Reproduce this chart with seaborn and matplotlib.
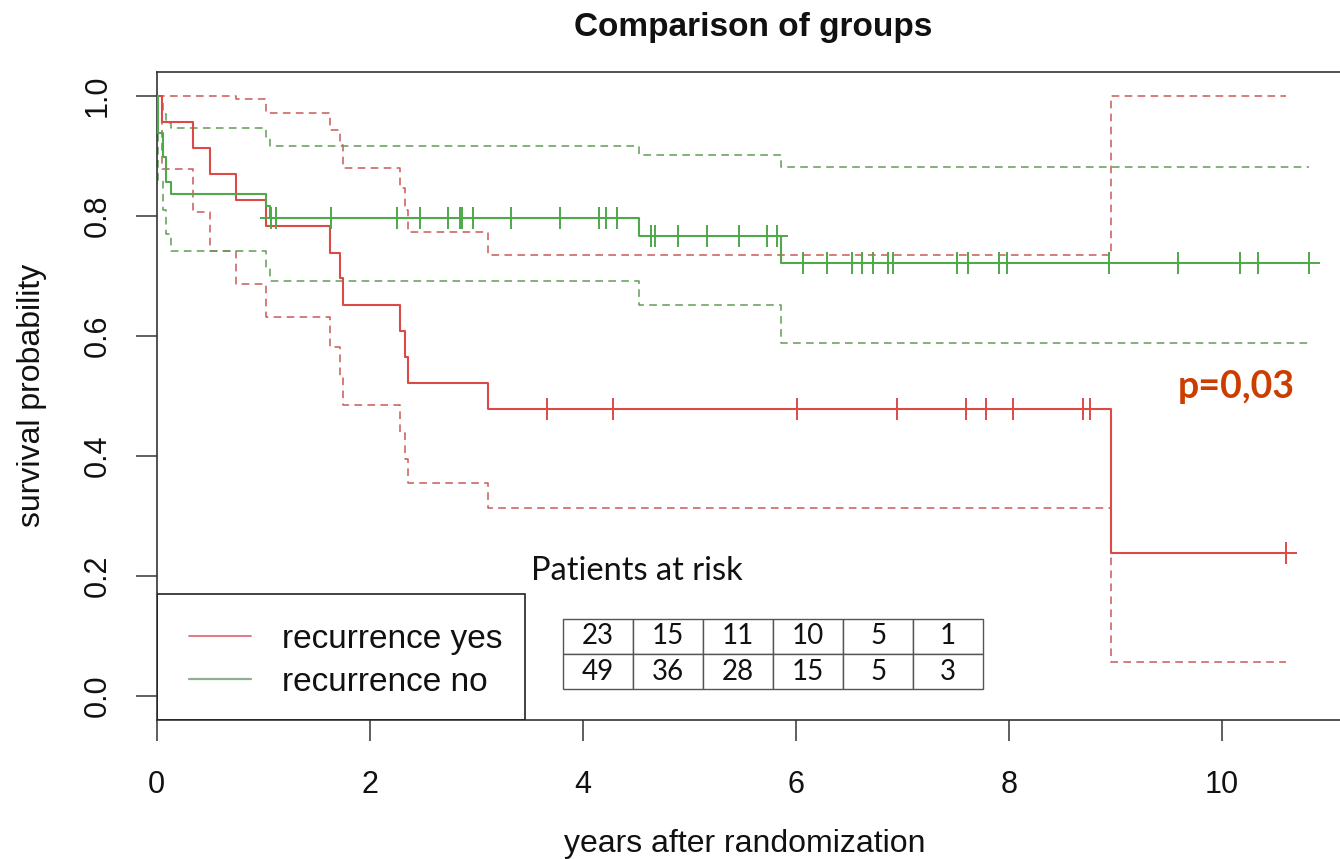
import numpy as np
import pandas as pd
import matplotlib
matplotlib.use("Agg")
import matplotlib.pyplot as plt
from matplotlib.lines import Line2D
from matplotlib.patches import Rectangle
import seaborn as sns

# Kaplan-Meier steps
# recurrence yes (red)
yes_time = [0, 0.053, 0.345, 0.50, 0.745, 1.026, 1.627, 1.72, 1.75, 2.28, 2.33, 2.36, 3.11, 8.96]
yes_surv = [1.0, 0.957, 0.913, 0.870, 0.826, 0.783, 0.739, 0.696, 0.652, 0.609, 0.565, 0.522, 0.478, 0.239]
yes_upper = [1.0, 1.0, 1.0, 1.0, 0.995, 0.972, 0.943, 0.918, 0.880, 0.847, 0.810, 0.773, 0.735, 1.0]
yes_lower = [1.0, 0.878, 0.806, 0.741, 0.686, 0.632, 0.581, 0.532, 0.485, 0.439, 0.395, 0.355, 0.314, 0.057]
yes_censor = [3.665, 4.285, 6.012, 6.951, 7.599, 7.786, 8.04, 8.697, 8.762, 10.60]

# recurrence no (green)
no_time = [0, 0.01, 0.06, 0.09, 0.13, 1.025, 1.06, 4.53, 5.86]
no_surv = [1.0, 0.939, 0.898, 0.857, 0.837, 0.816, 0.796, 0.766, 0.721]
no_upper = [1.0, 0.99, 0.97, 0.955, 0.947, 0.932, 0.917, 0.901, 0.881]
no_lower = [1.0, 0.86, 0.81, 0.77, 0.741, 0.715, 0.691, 0.652, 0.588]
no_censor = [1.07, 1.12, 1.634, 2.259, 2.472, 2.738, 2.848, 2.864, 2.973, 3.324,
             3.787, 4.156, 4.219, 4.325, 4.638, 4.679, 4.898, 5.164, 5.470, 5.733,
             5.822, 6.066, 6.297, 6.526, 6.620, 6.723, 6.870, 6.911, 7.517, 7.621,
             7.909, 7.987, 8.945, 9.592, 10.172, 10.344, 10.822]

groups = ["recurrence yes", "recurrence no"]
risk_yes = [23, 15, 11, 10, 5, 1]
risk_no = [49, 36, 28, 15, 5, 3]

x_ticks = [0, 2, 4, 6, 8, 10]
y_ticks = [0.0, 0.2, 0.4, 0.6, 0.8, 1.0]
y_tick_labels = ["0.0", "0.2", "0.4", "0.6", "0.8", "1.0"]

red = "#dc4a48"
green = "#4fa84a"
red_ci = "#c95a55"
green_ci = "#5f9d55"

sns.set_style("white")
plt.rcParams["font.family"] = ["Liberation Sans", "DejaVu Sans"]
plt.rcParams["text.color"] = "#111111"
plt.rcParams["axes.labelcolor"] = "#111111"
plt.rcParams["xtick.labelcolor"] = "#111111"
plt.rcParams["ytick.labelcolor"] = "#111111"

fig = plt.figure(figsize=(13.4, 8.59), dpi=100)
ax = fig.add_axes([156.7 / 1340, 139 / 859, 1193.3 / 1340, 648.3 / 859])


def step_frame(t, v, t_end):
    return pd.DataFrame({"t": list(t) + [t_end], "v": list(v) + [v[-1]]})


def draw_group(t, s, up, lo, cens, col, col_ci):
    end = cens[-1]
    d = step_frame(t, s, end)
    sns.lineplot(data=d, x="t", y="v", ax=ax, color=col, lw=1.5,
                 drawstyle="steps-post", estimator=None, sort=False, zorder=3)
    for band in (up, lo):
        d = step_frame(t, band, end)
        sns.lineplot(data=d, x="t", y="v", ax=ax, color=col_ci, lw=1.1,
                     linestyle=(0, (5, 3.5)), drawstyle="steps-post",
                     estimator=None, sort=False, zorder=2)
    idx = np.searchsorted(t, cens, side="right") - 1
    cy = np.array(s)[idx]
    sns.scatterplot(x=cens, y=cy, ax=ax, marker="+", s=260, color=col,
                    linewidth=1.4, zorder=4, legend=False)


draw_group(yes_time, yes_surv, yes_upper, yes_lower, yes_censor, red, red_ci)
draw_group(no_time, no_surv, no_upper, no_lower, no_censor, green, green_ci)

ax.set_xlim(0, 1193.3 / 106.5)
ax.set_ylim(-0.04, 1.0405)
ax.set_xticks(x_ticks)
ax.set_xticklabels([str(v) for v in x_ticks])
ax.set_yticks(y_ticks)
ax.set_yticklabels(y_tick_labels)
ax.tick_params(direction="out", length=15, width=1.1, color="#333333",
               labelsize=22, bottom=True, left=True)
ax.tick_params(axis="x", pad=21)
ax.tick_params(axis="y", labelrotation=90, pad=17)
for lab in ax.get_yticklabels():
    lab.set_va("center")
for sp in ax.spines.values():
    sp.set_color("#333333")
    sp.set_linewidth(1.2)

ax.set_xlabel("years after randomization", fontsize=23)
ax.xaxis.set_label_coords(0.493, -0.168)
ax.set_ylabel("survival probability", fontsize=23)
ax.yaxis.set_label_coords(-0.092, 0.50)
ax.set_title("Comparison of groups", fontsize=24, fontweight="bold", pad=26)

# legend box
ax.add_patch(Rectangle((0, -0.04), (525 - 156.7) / 1193.3 * ax.get_xlim()[1],
                       (720 - 594.3) / 648.3 * 1.0805, fill=False,
                       edgecolor="#222222", lw=1.2, zorder=5))
handles = [Line2D([], [], color="#e07078", lw=1.3),
           Line2D([], [], color="#8fb08f", lw=1.6)]
ax.legend(handles, groups, loc="center left", bbox_to_anchor=(0.013, 0.091),
          frameon=False, fontsize=24, handlelength=1.85, handletextpad=0.95,
          labelspacing=0.36, borderpad=0)

ax.text(0.4025, 0.2298, "Patients at risk", transform=ax.transAxes,
        ha="center", va="center", fontsize=23.5, family="Lato")

tbl = ax.table(cellText=[[str(v) for v in risk_yes], [str(v) for v in risk_no]],
               cellLoc="center", bbox=[0.3405, 0.0478, 0.352, 0.108])
tbl.auto_set_font_size(False)
for cell in tbl.get_celld().values():
    cell.set_edgecolor("#555555")
    cell.set_linewidth(1.0)
    cell.get_text().set_fontsize(20)
    cell.get_text().set_fontfamily("Lato")

ax.text(0.9045, 0.5137, "p=0,03", transform=ax.transAxes, ha="center",
        va="center", fontsize=27, fontweight="bold", color="#cc3d00",
        family="Lato")

fig.savefig("out.png", dpi=100)
